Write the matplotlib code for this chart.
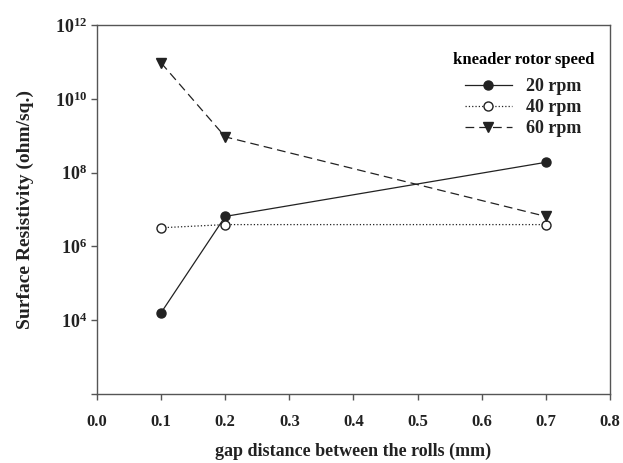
import math
import matplotlib
matplotlib.use("Agg")
import matplotlib.pyplot as plt
from matplotlib.ticker import FixedLocator, FuncFormatter, NullLocator

plt.rcParams['font.family'] = ['Liberation Serif', 'DejaVu Serif']
plt.rcParams['font.weight'] = 'bold'
plt.rcParams['mathtext.fontset'] = 'custom'
plt.rcParams['mathtext.rm'] = 'Liberation Serif:bold'
plt.rcParams['mathtext.it'] = 'Liberation Serif:bold'
plt.rcParams['mathtext.bf'] = 'Liberation Serif:bold'

gap = [0.1, 0.2, 0.7]
rpm20 = [1.6e4, 6.5e6, 1.9e8]
rpm40 = [3.2e6, 3.9e6, 3.9e6]
rpm60 = [9.4e10, 9.3e8, 6.5e6]
labels = ["20 rpm", "40 rpm", "60 rpm"]

col = "#222222"
fig = plt.figure(figsize=(6.23, 4.63), dpi=100)
ax = fig.add_axes([0.1557, 0.149, 0.8233, 0.797])

ax.plot(gap, rpm20, '-', color=col, lw=0.9, marker='o', ms=6.5,
        mfc=col, mec=col, label=labels[0])
ax.plot(gap, rpm40, ':', color=col, lw=0.9, marker='o', ms=6.5,
        mfc='white', mec=col, label=labels[1])
ax.plot(gap, rpm60, '--', color=col, lw=0.9, marker='v', ms=6.5,
        mfc=col, mec=col, dashes=(7, 4), label=labels[2])

ax.set_yscale('log')
ax.set_ylim(1e2, 1e12)
ax.set_xlim(0.0, 0.8)
ax.yaxis.set_major_locator(FixedLocator([1e2, 1e4, 1e6, 1e8, 1e10, 1e12]))
ax.yaxis.set_minor_locator(NullLocator())
ax.yaxis.set_major_formatter(FuncFormatter(
    lambda v, p: "" if v < 1e3 else r"$10^{%d}$" % round(math.log10(v))))
ax.set_xticks([0.0, 0.1, 0.2, 0.3, 0.4, 0.5, 0.6, 0.7, 0.8])
ax.set_xticklabels(["%.1f" % t for t in ax.get_xticks()])

for s in ax.spines.values():
    s.set_color("#555555")
    s.set_linewidth(1.0)
ax.tick_params(direction='out', length=4, width=1.0, color="#555555",
               labelsize=12, labelcolor=col)
ax.tick_params(axis='x', pad=10.5)
ax.tick_params(axis='y', pad=3, labelsize=13)

ax.set_xlabel("gap distance between the rolls (mm)", fontsize=13,
              fontweight='bold', color=col, labelpad=9)
ax.set_ylabel("Surface Resistivity (ohm/sq.)", fontsize=14,
              fontweight='bold', color=col, labelpad=15)

leg = ax.legend(title="kneader rotor speed", loc='upper right',
                bbox_to_anchor=(0.99, 0.955), frameon=False,
                fontsize=13, title_fontsize=12, handlelength=2.6,
                labelspacing=0.22, borderaxespad=0.2)
leg.get_title().set_fontweight('bold')
leg._legend_box.sep = 7
for t in leg.get_texts():
    t.set_color(col)

fig.savefig("out.png", dpi=100)
